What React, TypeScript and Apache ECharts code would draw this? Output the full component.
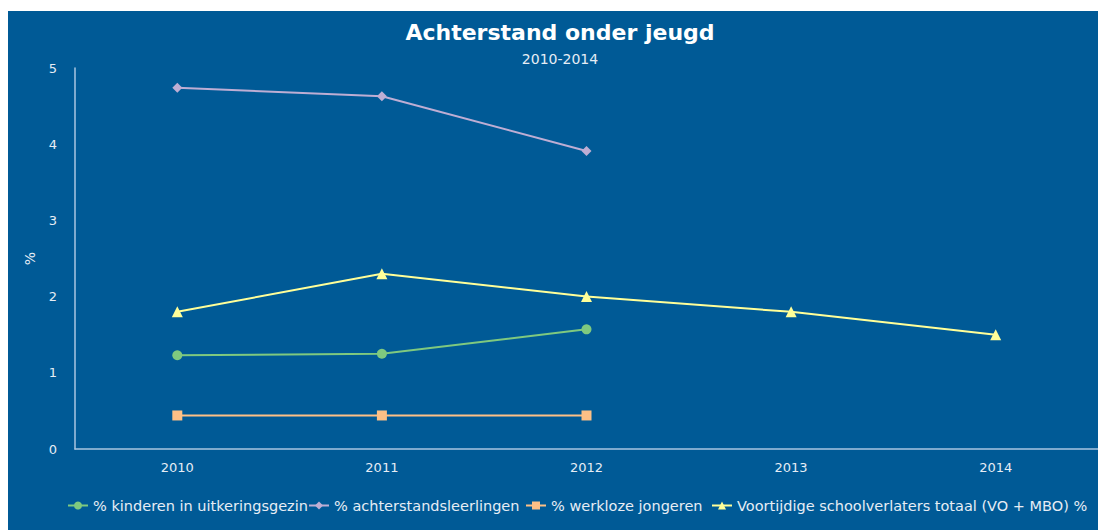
import React, { useEffect, useRef } from "react";
import * as echarts from "echarts";

const categories = ["2010", "2011", "2012", "2013", "2014"];
const kinderenUitkering = [1.23, 1.25, 1.57, null, null];
const achterstandsleerlingen = [4.74, 4.63, 3.91, null, null];
const werklozeJongeren = [0.44, 0.44, 0.44, null, null];
const voortijdigeSchoolverlaters = [1.8, 2.3, 2.0, 1.8, 1.5];
const seriesNames = [
  "% kinderen in uitkeringsgezin",
  "% achterstandsleerlingen",
  "% werkloze jongeren",
  "Voortijdige schoolverlaters totaal (VO + MBO) %",
];
const legendLefts = [59, 300, 517, 703];

export default function App() {
  const ref = useRef<HTMLDivElement>(null);
  useEffect(() => {
    document.documentElement.style.overflow = "hidden";
    document.body.style.margin = "0";
    if (!ref.current) return;
    const chart = echarts.init(ref.current, null, { renderer: "svg" });
    const font = "DejaVu Sans";
    const textColor = "#e6edf5";
    const axisColor = "#a9c6e0";
    const mk = (name: string, data: any[], color: string, symbol: string, size: number) => ({
      name,
      type: "line",
      data,
      symbol,
      symbolSize: size,
      lineStyle: { color, width: 2 },
      itemStyle: { color },
      connectNulls: false,
    });
    chart.setOption({
      animation: false,
      backgroundColor: "#005a96",
      textStyle: { fontFamily: font },
      title: {
        text: "Achterstand onder jeugd",
        subtext: "2010-2014",
        left: 547,
        textAlign: "center",
        top: 5,
        itemGap: 9,
        textStyle: { color: "#ffffff", fontSize: 22, fontWeight: "bold", fontFamily: font },
        subtextStyle: { color: textColor, fontSize: 14, fontFamily: font },
      },
      legend: seriesNames.map((n, i) => ({
        top: 487,
        left: legendLefts[i],
        padding: 0,
        itemWidth: 20,
        itemHeight: 10,
        itemGap: 0,
        textStyle: { color: textColor, fontSize: 14.5, fontFamily: font },
        data: [n],
      })),
      grid: { left: 67, right: 0, top: 57, bottom: 81, containLabel: false },
      xAxis: {
        type: "category",
        data: categories,
        boundaryGap: true,
        axisLine: { lineStyle: { color: axisColor, width: 1.5 } },
        axisTick: { show: false },
        axisLabel: { color: textColor, fontSize: 13, margin: 12, fontFamily: font },
      },
      yAxis: {
        type: "value",
        min: 0,
        max: 5,
        interval: 1,
        name: "%",
        nameLocation: "middle",
        nameRotate: 90,
        nameGap: 38,
        nameTextStyle: { color: textColor, fontSize: 14, fontFamily: font },
        axisLine: { show: true, lineStyle: { color: axisColor, width: 1.5 } },
        axisTick: { show: false },
        splitLine: { show: false },
        axisLabel: { color: textColor, fontSize: 13, margin: 18, fontFamily: font },
      },
      series: [
        mk(seriesNames[0], kinderenUitkering, "#7fc97f", "circle", 10),
        mk(seriesNames[1], achterstandsleerlingen, "#beaed4", "diamond", 10),
        mk(seriesNames[2], werklozeJongeren, "#fdc086", "rect", 10),
        mk(seriesNames[3], voortijdigeSchoolverlaters, "#ffff99", "triangle", 11),
      ],
    });
    return () => chart.dispose();
  }, []);
  return (
    <div
      ref={ref}
      style={{ width: 1090, height: 519, marginLeft: 8, paddingTop: 0, position: "absolute", left: 0, top: 11 }}
    />
  );
}
